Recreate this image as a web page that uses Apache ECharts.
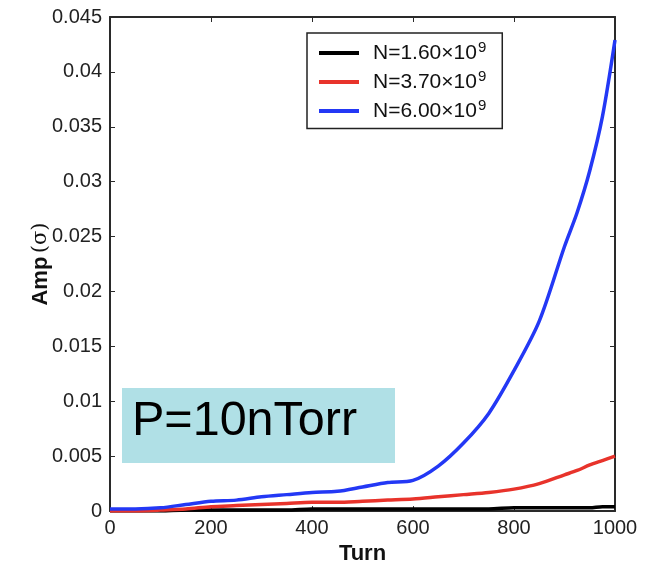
<!DOCTYPE html>
<html>
<head>
<meta charset="utf-8">
<script src="https://cdn.jsdelivr.net/npm/echarts@6/dist/echarts.min.js"></script>
<style>html,body{margin:0;padding:0;background:#fff}#c{width:652px;height:570px}</style>
</head>
<body>
<div id="c"></div>
<script>
const turns = [0,50,100,150,200,250,300,350,400,450,500,550,600,650,700,750,800,850,900,925,950,975,1000];
const ampN160 = [0,0,0,0.0001,0.0001,0.0001,0.0001,0.0001,0.0002,0.0002,0.0002,0.0002,0.0002,0.0002,0.0002,0.0002,0.0003,0.0003,0.0003,0.0003,0.0003,0.0004,0.0004];
const ampN370 = [0,0,0.0001,0.0002,0.0004,0.0005,0.0006,0.0007,0.0008,0.0008,0.0009,0.0010,0.0011,0.0013,0.0015,0.0017,0.0020,0.0025,0.0033,0.0037,0.0042,0.0046,0.0050];
const ampN600 = [0.0002,0.0002,0.0003,0.0006,0.0009,0.0010,0.0013,0.0015,0.0017,0.0018,0.0022,0.0026,0.0028,0.0041,0.0062,0.0089,0.0128,0.0173,0.0241,0.0272,0.0310,0.0359,0.0429];
const seriesNames = ['N=1.60×10^9','N=3.70×10^9','N=6.00×10^9'];
const seriesColors = ['#000000','#e8332b','#2338f5'];

const FONT = '"Liberation Sans", Arial, Helvetica, sans-serif';
const pair = arr => turns.map((t,i)=>[t,arr[i]]);
const allData = [ampN160, ampN370, ampN600];

const chart = echarts.init(document.getElementById('c'), null, {renderer:'canvas'});
const axisLineStyle = {color:'#2a2a2a', width:2};
const tick = {show:true, inside:true, length:5, lineStyle:{color:'#2a2a2a', width:1}};
chart.setOption({
  animation:false,
  backgroundColor:'#fff',
  textStyle:{fontFamily:FONT},
  grid:{left:110, right:37, top:17, bottom:53, containLabel:false},
  legend:{
    orient:'vertical', left:307, top:33,
    padding:[7,16,7,12],
    borderColor:'#222', borderWidth:1.5,
    backgroundColor:'#fff',
    itemWidth:40, itemHeight:24, itemGap:5.5,
    icon:'path://M0,10 L40,10 L40,14 L0,14 Z',
    data:seriesNames.map((n,i)=>({name:n, itemStyle:{color:seriesColors[i]}})),
    formatter: n => '{a|' + n.split('^')[0] + '}{s|' + n.split('^')[1] + '}',
    textStyle:{
      fontFamily:FONT, color:'#111',
      rich:{
        a:{fontSize:21, fontFamily:FONT, color:'#111', padding:[0,0,0,9]},
        s:{fontSize:15, fontFamily:FONT, color:'#111', padding:[0,0,11,1]}
      }
    }
  },
  xAxis:[{
    type:'value', min:0, max:1000, interval:200,
    name:'Turn', nameLocation:'middle', nameGap:31,
    nameTextStyle:{fontSize:22, fontWeight:'bold', color:'#111', fontFamily:FONT},
    axisLine:{show:true, onZero:false, lineStyle:axisLineStyle},
    axisTick:tick,
    axisLabel:{fontSize:20, color:'#222', margin:7, fontFamily:FONT, formatter:v=>String(v)},
    splitLine:{show:false}
  },{
    type:'value', min:0, max:1000, interval:200, position:'top',
    axisLine:{show:true, onZero:false, lineStyle:axisLineStyle},
    axisTick:tick,
    axisLabel:{show:false}, splitLine:{show:false}
  }],
  yAxis:[{
    type:'value', min:0, max:0.045, interval:0.005,
    name:'{b|Amp} {n|(σ)}', nameLocation:'middle', nameGap:58, nameRotate:90,
    nameMoveOverlap:false,
    nameTextStyle:{rich:{
      b:{fontSize:22, fontWeight:'bold', color:'#111', fontFamily:FONT},
      n:{fontSize:21, color:'#111', fontFamily:'"DejaVu Serif", serif'}
    }},
    axisLine:{show:true, onZero:false, lineStyle:axisLineStyle},
    axisTick:tick,
    axisLabel:{fontSize:20, color:'#222', margin:8, fontFamily:FONT,
      formatter:v=>String(parseFloat(v.toFixed(3)))},
    splitLine:{show:false}
  },{
    type:'value', min:0, max:0.045, interval:0.005, position:'right',
    axisLine:{show:true, onZero:false, lineStyle:axisLineStyle},
    axisTick:tick,
    axisLabel:{show:false}, splitLine:{show:false}
  }],
  series: seriesNames.map((n,i)=>({
    name:n, type:'line', xAxisIndex:0, yAxisIndex:0,
    data:pair(allData[i]), showSymbol:false, symbol:'none', smooth:0.3,
    lineStyle:{color:seriesColors[i], width:3.5},
    itemStyle:{color:seriesColors[i]},
    z:2+i
  })),
  graphic:[{
    type:'group', left:122, top:388, z:10,
    children:[
      {type:'rect', shape:{x:0,y:0,width:273,height:75}, style:{fill:'#b0e0e6'}},
      {type:'text', x:10, y:34, style:{text:'P=10nTorr', font:'48.5px '+FONT, fill:'#000', verticalAlign:'middle'}}
    ]
  }]
});
</script>
</body>
</html>
